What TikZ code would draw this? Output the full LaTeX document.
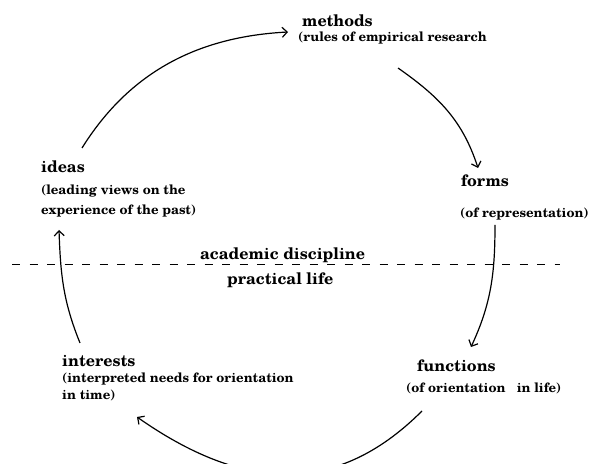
\documentclass[tikz,border=0pt]{standalone}
\usepackage{fontspec}
\setmainfont{TeX Gyre Schola}
\usetikzlibrary{arrows.meta}
\tikzset{
  head/.style={inner sep=0pt, anchor=base west, font=\bfseries\fontsize{16}{18}\selectfont},
  sub/.style={inner sep=0pt, anchor=base west, font=\bfseries\fontsize{13.1}{16}\selectfont},
  realm/.style={inner sep=0pt, anchor=base west, font=\bfseries\fontsize{16}{18}\selectfont},
  flow/.style={line width=1.2pt, -{Straight Barb[length=5pt,width=10pt,line width=1.2pt]}},
  border/.style={line width=1pt, dash pattern=on 8pt off 9.5pt}
}
\begin{document}
\begin{tikzpicture}[x=1pt,y=1pt]
\useasboundingbox (0,0) rectangle (590,464);
\clip (0,0) rectangle (590,464);
% labels
\node[head] (methods) at (302,437) {methods};
\node[sub]  (methodsA) at (298,422) {(rules of empirical research};
\node[head] (forms) at (461,277) {forms};
\node[sub]  (formsA) at (460,246) {(of representation)};
\node[head] (functions) at (417,92) {functions};
\node[sub]  (functionsA) at (406,71) {(of orientation\ \ \ in life)};
\node[head] (interests) at (62,97) {interests};
\node[sub]  (interestsA) at (62,81) {(interpreted needs for orientation};
\node[sub]  (interestsB) at (62,64) {in time)};
\node[head] (ideas) at (41,291) {ideas};
\node[sub]  (ideasA) at (41,269) {(leading views on the};
\node[sub]  (ideasB) at (41,249) {experience of the past)};
\node[realm] (academic) at (200,204) {academic discipline};
\node[realm] (practical) at (227,179) {practical life};
% boundary line
\coordinate (bl) at (12,199);
\coordinate (br) at (560,199);
\draw[border] (bl) -- (br);
% cycle
\coordinate (i-out) at (82,316);
\coordinate (m-in) at (288,432);
\coordinate (m-out) at (398,396);
\coordinate (f-in) at (478,296);
\coordinate (f-out) at (495,239);
\coordinate (fu-in) at (471,117);
\coordinate (fu-out) at (422,53);
\coordinate (in-in) at (137,47);
\coordinate (in-out) at (80,121);
\coordinate (id-in) at (59,234);
\draw[flow] (i-out) .. controls +(58:90) and +(183:90) .. (m-in);
\draw[flow] (m-out) .. controls +(-35:50) and +(108:50) .. (f-in);
\draw[flow] (f-out) .. controls +(-90:48) and +(65:48) .. (fu-in);
\draw[flow] (fu-out) .. controls +(225:125) and +(-35:125) .. (in-in);
\draw[flow] (in-out) .. controls +(112:45) and +(-88:45) .. (id-in);
\end{tikzpicture}
\end{document}
